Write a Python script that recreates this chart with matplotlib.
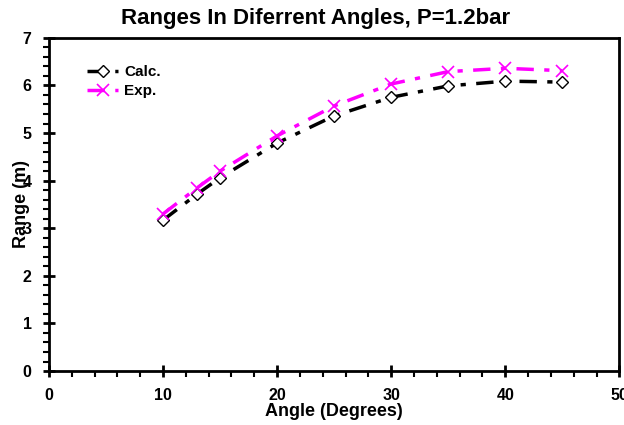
import matplotlib.pyplot as plt
from matplotlib.ticker import MultipleLocator

plt.rcParams['font.family'] = ['Liberation Sans', 'DejaVu Sans']
plt.rcParams['font.weight'] = 'bold'

# Data
angles = [10, 13, 15, 20, 25, 30, 35, 40, 45]
calc = [3.17, 3.72, 4.06, 4.79, 5.36, 5.75, 5.99, 6.09, 6.07]
exp = [3.30, 3.85, 4.20, 4.94, 5.57, 6.03, 6.29, 6.36, 6.31]

fig = plt.figure(figsize=(6.24, 4.25), dpi=100)
ax = fig.add_axes([0.0785, 0.127, 0.914, 0.784])

ax.plot(angles, calc, color='black', lw=2.5, dashes=(5, 3, 1.5, 3),
        marker='D', markersize=6, markerfacecolor='white',
        markeredgecolor='black', markeredgewidth=1, label='Calc.')
ax.plot(angles, exp, color='#ff00ff', lw=2.5, dashes=(5, 3, 1.5, 3),
        marker='x', markersize=9, markeredgewidth=1.2, label='Exp.')

ax.set_xlim(0, 50)
ax.set_ylim(0, 7)
ax.xaxis.set_major_locator(MultipleLocator(10))
ax.xaxis.set_minor_locator(MultipleLocator(2))
ax.yaxis.set_major_locator(MultipleLocator(1))
ax.yaxis.set_minor_locator(MultipleLocator(0.2))
ax.tick_params(which='major', direction='inout', length=9, width=2, labelsize=11.5, pad=8)
ax.tick_params(which='minor', direction='out', length=4, width=1.5)
for s in ax.spines.values():
    s.set_linewidth(2)
for lab in ax.get_xticklabels() + ax.get_yticklabels():
    lab.set_fontweight('bold')

ax.set_title('Ranges In Diferrent Angles, P=1.2bar', fontsize=16, fontweight='bold',
             pad=10, x=0.468)
ax.set_xlabel('Angle (Degrees)', fontsize=13, fontweight='bold')
ax.set_ylabel('Range (m)', fontsize=13, fontweight='bold')
ax.xaxis.set_label_coords(0.5, -0.096)
ax.yaxis.set_label_coords(-0.034, 0.5)

ax.legend(loc='upper left', bbox_to_anchor=(0.043, 0.96), frameon=False,
          fontsize=11, handlelength=2.0, handletextpad=0.4, labelspacing=0.35)

fig.savefig('out.png', dpi=100)
